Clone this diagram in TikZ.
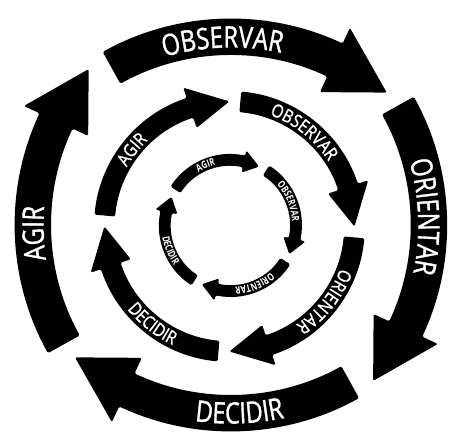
\documentclass[tikz,border=0pt]{standalone}
\usepackage{fontspec}
\newfontfamily\loopfont[FakeStretch=0.8, FakeBold=1.2]{Open Sans}
\newfontfamily\midloopfont[FakeStretch=0.84, FakeBold=1.2]{Open Sans}
\newfontfamily\smallloopfont[FakeStretch=0.75]{Open Sans}
\usetikzlibrary{decorations.text}

\tikzset{
  loopshape/.style={fill=black, rounded corners=1.5pt},
}

% #1 radius, #2 tail angle, #3 head base angle, #4 tip angle, #5 shaft half width, #6 head half width
\newcommand\looparrow[6]{%
  \fill[loopshape] ({#2}:{#1+#5}) arc[start angle={#2}, end angle={#3}, radius={#1+#5}]
    -- ({#3}:{#1+#6}) -- ({#4}:{#1}) -- ({#3}:{#1-#6}) -- ({#3}:{#1-#5})
    arc[start angle={#3}, end angle={#2}, radius={#1-#5}] -- cycle;}

% #1 radius, #2 from angle, #3 to angle, #4 font, #5 text
\newcommand\looplabel[5]{%
  \path[decorate, decoration={text along path, text align=center,
    text={|#4\color{white}|#5}}] ({#2}:{#1}) arc[start angle={#2}, end angle={#3}, radius={#1}];}

\newcommand\outerfont{\loopfont\fontsize{30}{32}\selectfont}
\newcommand\middlefont{\midloopfont\fontsize{18.5}{20}\selectfont}
\newcommand\innerfont{\smallloopfont\bfseries\fontsize{10.5}{12}\selectfont}

\begin{document}
\begin{tikzpicture}[x=1pt, y=1pt]
\fill[white] (0,0) rectangle (458,444);

% outer loop
\begin{scope}[shift={(234.5,156.5)}]
  \looparrow{250}{119}{65}{50.7}{18.5}{36}
  \looplabel{239.3}{119}{65}{\outerfont}{OBSERVAR}
\end{scope}
\begin{scope}[shift={(185.5,215.5)}]
  \looparrow{250}{29}{-25}{-39.3}{18.5}{36}
  \looplabel{239.3}{29}{-25}{\outerfont}{ORIENTAR}
\end{scope}
\begin{scope}[shift={(234.5,274.5)}]
  \looparrow{250}{-61}{-115}{-129.3}{18.5}{36}
  \looplabel{260.7}{-115}{-61}{\outerfont}{DECIDIR}
\end{scope}
\begin{scope}[shift={(283.5,215.5)}]
  \looparrow{250}{209}{155}{140.7}{18.5}{36}
  \looplabel{239.3}{209}{155}{\outerfont}{AGIR}
\end{scope}

% middle loop
\begin{scope}[shift={(233,214)}]
  \looparrow{127}{175}{108.4}{90}{10.5}{21.5}
  \looparrow{127}{85}{18.4}{0}{10.5}{21.5}
  \looparrow{127}{-5}{-71.6}{-90}{10.5}{21.5}
  \looparrow{127}{-95}{-161.6}{-180}{10.5}{21.5}
  \looplabel{120.4}{175}{108.4}{\middlefont}{AGIR}
  \looplabel{120.4}{85}{18.4}{\middlefont}{OBSERVAR}
  \looplabel{120.4}{-5}{-71.6}{\middlefont}{ORIENTAR}
  \looplabel{133.6}{-161.6}{-95}{\middlefont}{DECIDIR}
\end{scope}

% inner loop
\begin{scope}[shift={(234,215)}]
  \looparrow{66.5}{147}{78}{64}{6}{11.5}
  \looparrow{66.5}{57}{-12}{-26}{6}{11.5}
  \looparrow{66.5}{-33}{-102}{-116}{6}{11.5}
  \looparrow{66.5}{-123}{-192}{-206}{6}{11.5}
  \looplabel{62.8}{147}{78}{\innerfont}{AGIR}
  \looplabel{62.8}{57}{-12}{\innerfont}{OBSERVAR}
  \looplabel{62.8}{-33}{-102}{\innerfont}{ORIENTAR}
  \looplabel{70.2}{-192}{-123}{\innerfont}{DECIDIR}
\end{scope}
\end{tikzpicture}
\end{document}
